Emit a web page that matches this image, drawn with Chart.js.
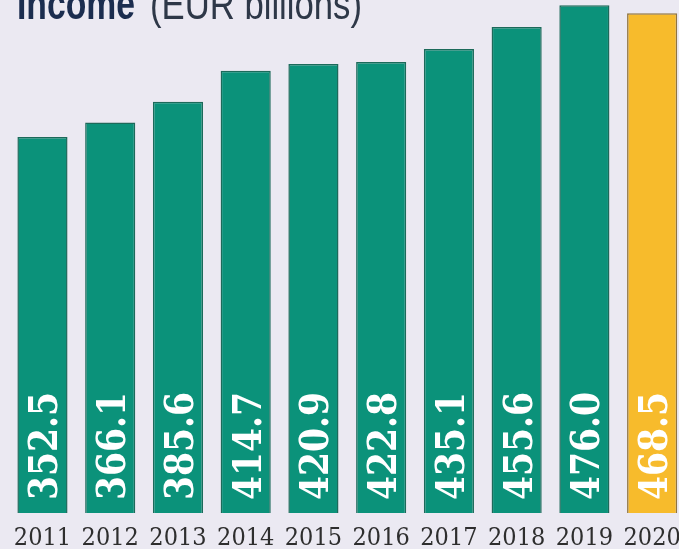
<!DOCTYPE html>
<html>
<head>
<meta charset="utf-8">
<script src="https://cdn.jsdelivr.net/npm/chart.js@4.4.1/dist/chart.umd.min.js"></script>
<style>
html, body { margin: 0; padding: 0; background: #ebe9f2; overflow: hidden; }
#wrap { position: absolute; left: 0; top: 0; width: 700px; height: 549px; }
</style>
</head>
<body>
<div id="wrap"><canvas id="mycanvas"></canvas></div>
<script>
var years = ['2011', '2012', '2013', '2014', '2015', '2016', '2017', '2018', '2019', '2020'];
var income = [352.5, 366.1, 385.6, 414.7, 420.9, 422.8, 435.1, 455.6, 476.0, 468.5];
var barColors = ['#0b927a', '#0b927a', '#0b927a', '#0b927a', '#0b927a', '#0b927a', '#0b927a', '#0b927a', '#0b927a', '#f7bb2c'];
var borderColors = ['#1c6a5a', '#1c6a5a', '#1c6a5a', '#1c6a5a', '#1c6a5a', '#1c6a5a', '#1c6a5a', '#1c6a5a', '#1c6a5a', '#8f7440'];

// white numbers written up the bars
var valueLabels = {
	id: 'valueLabels',
	afterDatasetsDraw: function(chart) {
		var ctx = chart.ctx;
		var meta = chart.getDatasetMeta(0);
		ctx.save();
		ctx.fillStyle = '#ffffff';
		ctx.font = "bold 40px 'DejaVu Serif'";
		ctx.textAlign = 'left';
		ctx.textBaseline = 'alphabetic';
		meta.data.forEach(function(bar, i) {
			var txt = income[i].toFixed(1);
			var w = ctx.measureText(txt).width;
			ctx.save();
			ctx.translate(bar.x + 15, bar.base - 13);
			ctx.rotate(-Math.PI / 2);
			ctx.scale(108 / w, 1);
			ctx.fillText(txt, 0, 0);
			ctx.restore();
		});
		ctx.restore();
	}
};

// title, cut at the top edge like the original
function squeezeText(ctx, txt, x, y, width) {
	var w = ctx.measureText(txt).width;
	ctx.save();
	ctx.translate(x, y);
	ctx.scale(width / w, 1);
	ctx.fillText(txt, 0, 0);
	ctx.restore();
}

var titlePlugin = {
	id: 'titlePlugin',
	afterDraw: function(chart) {
		var ctx = chart.ctx;
		ctx.save();
		ctx.textBaseline = 'alphabetic';
		ctx.fillStyle = '#1b2d4f';
		ctx.font = "bold 44px 'Liberation Sans'";
		squeezeText(ctx, 'Income', 17, 19, 118);
		ctx.fillStyle = '#2e3848';
		ctx.font = "42px 'Liberation Sans'";
		squeezeText(ctx, '(EUR billions)', 150, 19, 212);
		ctx.restore();
	}
};

var ctx = document.getElementById('mycanvas');

var barGraph = new Chart(ctx, {
	type: 'bar',
	data: {
		labels: years,
		datasets: [{
			label: 'Income',
			data: income,
			backgroundColor: barColors,
			borderColor: borderColors,
			borderWidth: 1.5,
			categoryPercentage: 1,
			barPercentage: 0.74
		}]
	},
	options: {
		responsive: true,
		maintainAspectRatio: false,
		animation: false,
		layout: { padding: { left: 8.6, right: 14, top: 1, bottom: 0 } },
		plugins: {
			legend: { display: false },
			tooltip: { enabled: false }
		},
		scales: {
			x: {
				grid: { display: false },
				border: { display: false },
				afterFit: function(scale) { scale.height = 36; },
				ticks: {
					padding: 2,
					color: '#2e2e2e',
					font: { family: "'DejaVu Serif Condensed', 'DejaVu Serif'", size: 25 },
					maxRotation: 0
				}
			},
			y: {
				display: false,
				min: 0,
				max: 480
			}
		}
	},
	plugins: [valueLabels, titlePlugin]
});
</script>
</body>
</html>
